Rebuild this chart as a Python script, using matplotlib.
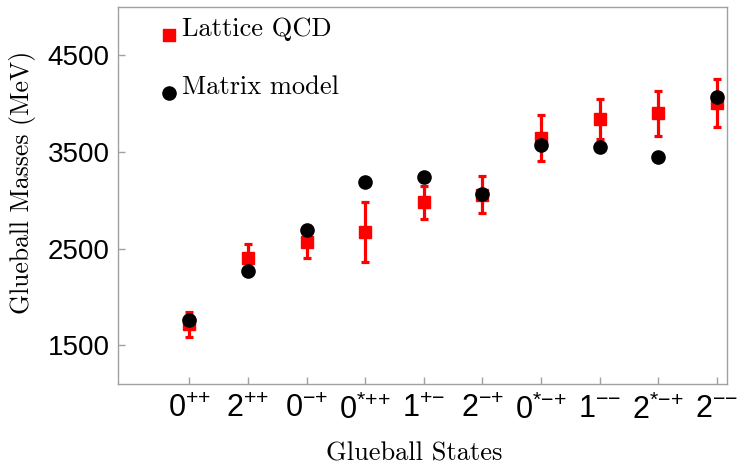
import numpy as np
import matplotlib.pyplot as plt

plt.rcParams['mathtext.fontset'] = 'custom'
plt.rcParams['mathtext.rm'] = 'Liberation Sans'
plt.rcParams['mathtext.it'] = 'Liberation Sans'
plt.rcParams['mathtext.default'] = 'rm'

states = [r'$0^{{+}{+}}$', r'$2^{{+}{+}}$', r'$0^{{-}{+}}$', r'$0^{{*}{+}{+}}$', r'$1^{{+}{-}}$',
          r'$2^{{-}{+}}$', r'$0^{{*}{-}{+}}$', r'$1^{{-}{-}}$', r'$2^{{*}{-}{+}}$', r'$2^{{-}{-}}$']
lattice = [1720, 2400, 2565, 2670, 2980, 3060, 3640, 3840, 3900, 4010]
lattice_err = [130, 150, 165, 310, 170, 190, 238, 210, 230, 248]
matrix = [1759, 2265, 2690, 3185, 3237, 3070, 3568, 3548, 3444, 4065]
yticks = [1500, 2500, 3500, 4500]

x = np.arange(1, len(states) + 1)

fig = plt.figure(figsize=(7.37, 4.65), dpi=100)
ax = fig.add_axes([0.160, 0.174, 0.826, 0.811])

ax.errorbar(x, lattice, yerr=lattice_err, fmt='s', color='red', ms=8.7,
            elinewidth=2.3, capsize=3, capthick=2.3, zorder=2)
ax.plot(x, matrix, 'o', color='black', ms=9.5, zorder=3)

ax.set_xlim(-0.22, 10.17)
ax.set_ylim(1100, 5000)
ax.set_xticks(x, states)
ax.set_yticks(yticks)

grey = '#a0a0a0'
for s in ax.spines.values():
    s.set_color(grey)
    s.set_linewidth(1.0)
ax.tick_params(direction='in', length=5, width=1.0, color=grey)
ax.tick_params(axis='y', labelsize=20, pad=6)
ax.tick_params(axis='x', labelsize=22, pad=7)
for lab in ax.get_yticklabels():
    lab.set_fontfamily('Liberation Sans')

ax.set_xlabel('Glueball States', family='cmr10', fontsize=19, labelpad=12, x=0.487)
ax.set_ylabel('Glueball Masses (MeV)', family='cmr10', fontsize=18.5, labelpad=8, y=0.534)

h1 = ax.scatter([], [], marker='s', color='red', s=75)
h2 = ax.scatter([], [], marker='o', color='black', s=90)
ax.legend([h1, h2], ['Lattice QCD', 'Matrix model'], loc='upper left',
          bbox_to_anchor=(0.032, 1.035), frameon=False, prop={'family': 'cmr10', 'size': 19},
          handlelength=0.6, handletextpad=0.2, labelspacing=1.3,
          scatteryoffsets=[0.05])

fig.savefig('out.png', dpi=100)
